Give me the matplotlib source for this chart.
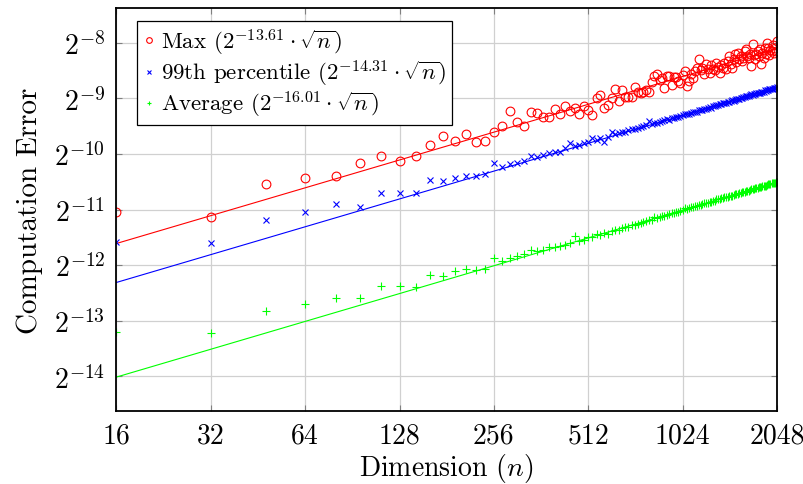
import matplotlib
matplotlib.use("Agg")
import matplotlib.pyplot as plt
import numpy as np

plt.rcParams["font.family"] = "cmr10"
plt.rcParams["mathtext.fontset"] = "cm"
plt.rcParams["axes.formatter.use_mathtext"] = True

# dimensions n = 16, 32, ..., 2048
dims = [16 * k for k in range(1, 129)]

max_exp = [
    -11.05, -11.13, -10.55, -10.43, -10.39, -10.16, -10.04, -10.12, -10.04, -9.84,
    -9.68, -9.77, -9.65, -9.78, -9.77, -9.61, -9.50, -9.23, -9.42, -9.50,
    -9.24, -9.26, -9.33, -9.34, -9.19, -9.28, -9.14, -9.23, -9.18, -9.29,
    -9.14, -9.21, -9.30, -9.00, -8.94, -9.18, -9.12, -8.99, -8.84, -9.05,
    -8.85, -8.98, -8.98, -8.97, -8.79, -8.88, -8.90, -8.88, -8.85, -8.88,
    -8.71, -8.60, -8.57, -8.67, -8.64, -8.81, -8.61, -8.60, -8.76, -8.62,
    -8.62, -8.70, -8.72, -8.58, -8.51, -8.78, -8.69, -8.57, -8.63, -8.52,
    -8.45, -8.30, -8.50, -8.45, -8.56, -8.39, -8.47, -8.54, -8.41, -8.48,
    -8.50, -8.36, -8.44, -8.54, -8.40, -8.45, -8.36, -8.48, -8.33, -8.24,
    -8.38, -8.45, -8.30, -8.21, -8.35, -8.18, -8.30, -8.24, -8.33, -8.27,
    -8.15, -8.12, -8.25, -8.27, -8.20, -8.42, -8.03, -8.22, -8.30, -8.21,
    -8.16, -8.25, -8.12, -8.39, -8.18, -8.27, -8.10, -8.20, -8.00, -8.09,
    -8.22, -8.13, -8.15, -8.05, -8.18, -8.10, -8.15, -7.97,
]
p99_exp = [
    -11.59, -11.60, -11.19, -11.05, -10.90, -10.95, -10.70, -10.70, -10.70, -10.47,
    -10.49, -10.44, -10.40, -10.40, -10.37, -10.16, -10.23, -10.19, -10.16, -10.13,
    -10.03, -10.06, -10.02, -9.99, -9.97, -9.96, -9.90, -9.80, -9.86, -9.84,
    -9.81, -9.78, -9.72, -9.76, -9.72, -9.78, -9.69, -9.60, -9.65, -9.63,
    -9.61, -9.60, -9.58, -9.56, -9.55, -9.53, -9.52, -9.50, -9.49, -9.41,
    -9.46, -9.44, -9.45, -9.42, -9.41, -9.39, -9.38, -9.39, -9.36, -9.35,
    -9.33, -9.33, -9.32, -9.30, -9.29, -9.28, -9.29, -9.26, -9.25, -9.24,
    -9.25, -9.22, -9.21, -9.22, -9.19, -9.19, -9.17, -9.16, -9.17, -9.14,
    -9.14, -9.12, -9.13, -9.11, -9.10, -9.09, -9.08, -9.09, -9.07, -9.06,
    -9.05, -9.04, -9.05, -9.03, -9.02, -9.01, -9.01, -9.00, -8.99, -8.98,
    -8.98, -8.96, -8.96, -8.96, -8.95, -8.93, -8.94, -8.93, -8.92, -8.91,
    -8.91, -8.90, -8.90, -8.88, -8.88, -8.88, -8.86, -8.87, -8.86, -8.85,
    -8.84, -8.84, -8.83, -8.83, -8.82, -8.81, -8.81, -8.79,
]
avg_exp = [
    -13.20, -13.22, -12.83, -12.70, -12.59, -12.59, -12.37, -12.37, -12.39, -12.18,
    -12.19, -12.11, -12.07, -12.09, -12.06, -11.87, -11.93, -11.87, -11.84, -11.80,
    -11.72, -11.74, -11.72, -11.68, -11.68, -11.65, -11.64, -11.60, -11.47, -11.56,
    -11.54, -11.50, -11.49, -11.44, -11.46, -11.42, -11.44, -11.38, -11.37, -11.36,
    -11.33, -11.32, -11.31, -11.27, -11.28, -11.26, -11.24, -11.23, -11.21, -11.19,
    -11.18, -11.14, -11.16, -11.13, -11.12, -11.12, -11.10, -11.08, -11.07, -11.06,
    -11.05, -11.04, -11.02, -11.00, -10.97, -10.99, -10.97, -10.96, -10.95, -10.94,
    -10.93, -10.92, -10.91, -10.90, -10.89, -10.88, -10.88, -10.86, -10.86, -10.84,
    -10.84, -10.82, -10.82, -10.81, -10.80, -10.79, -10.78, -10.78, -10.77, -10.76,
    -10.75, -10.75, -10.74, -10.73, -10.72, -10.72, -10.71, -10.70, -10.69, -10.68,
    -10.68, -10.67, -10.66, -10.66, -10.65, -10.64, -10.64, -10.63, -10.62, -10.62,
    -10.61, -10.60, -10.60, -10.59, -10.58, -10.58, -10.57, -10.57, -10.56, -10.55,
    -10.55, -10.54, -10.53, -10.53, -10.52, -10.52, -10.51, -10.51,
]

# fitted constants c in 2^c * sqrt(n)
fit_max = -13.61
fit_p99 = -14.31
fit_avg = -16.01

x_ticks = [16, 32, 64, 128, 256, 512, 1024, 2048]
y_tick_exps = [-14, -13, -12, -11, -10, -9, -8]

fig = plt.figure(figsize=(8.04, 4.85), dpi=100)
ax = fig.add_axes([0.1449, 0.1505, 0.8215, 0.8309])

n = np.array(dims, dtype=float)
series = [
    ("Max", max_exp, fit_max, "red", dict(marker="o", mfc="none", ms=6.3, mew=0.8)),
    ("99th percentile", p99_exp, fit_p99, "blue", dict(marker="x", ms=4.0, mew=0.8)),
    ("Average", avg_exp, fit_avg, "#00ff00", dict(marker="+", ms=5.5, mew=0.8)),
]
for name, exps, c, col, mk in series:
    label = name + r" $(2^{%.2f}\cdot\sqrt{n})$" % c
    ax.plot(n, 2.0 ** np.array(exps), ls="none", color=col, label=label, **mk)
    ax.plot(n, 2.0 ** c * np.sqrt(n), color=col, lw=0.8)

ax.set_xscale("log", base=2)
ax.set_yscale("log", base=2)
ax.set_xlim(16, 2048)
ax.set_ylim(2 ** -14.62, 2 ** -7.38)
ax.set_xticks(x_ticks)
ax.set_xticklabels([str(v) for v in x_ticks])
ax.set_yticks([2.0 ** e for e in y_tick_exps])
ax.set_yticklabels([r"$2^{%d}$" % e for e in y_tick_exps])
ax.minorticks_off()
ax.tick_params(direction="in", length=4, width=0.8, color="#808080",
               top=True, right=True, labelsize=20, pad=8)
ax.grid(True, color="#d0d0d0", lw=0.9)
ax.set_axisbelow(True)
for s in ax.spines.values():
    s.set_linewidth(1.3)

ax.set_xlabel(r"Dimension $(n)$", fontsize=20, labelpad=2)
ax.set_ylabel("Computation Error", fontsize=21, labelpad=8)

leg = ax.legend(loc="upper left", bbox_to_anchor=(0.0315, 0.9685), borderaxespad=0,
                fontsize=16.5, fancybox=False, edgecolor="black", framealpha=1,
                handlelength=0.5, handletextpad=0.3, borderpad=0.25,
                labelspacing=0.05, markerscale=0.65)
leg.get_frame().set_linewidth(0.9)

fig.savefig("out.png", dpi=100)
